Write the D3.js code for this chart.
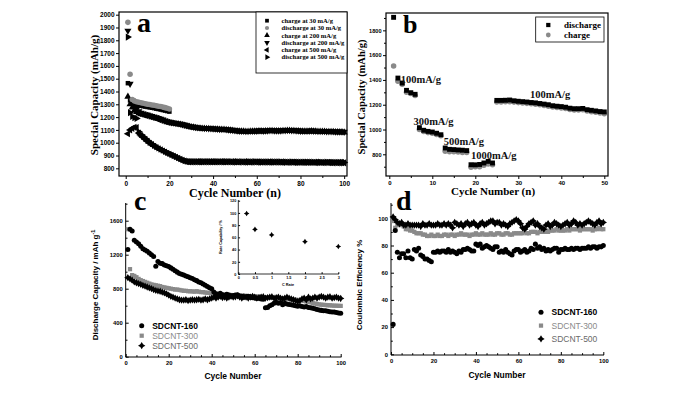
<!DOCTYPE html>
<html>
<head>
<meta charset="utf-8">
<script src="https://cdn.jsdelivr.net/npm/d3@7"></script>
<style>
  body { margin: 0; background: #fff; }
  svg { display: block; }
  .serif { font-family: "Liberation Serif", "Times New Roman", serif; }
  .sans { font-family: "Liberation Sans", Arial, sans-serif; font-weight: bold; }
</style>
</head>
<body>
<div id="fig"></div>
<script>
// ---------- panel a : cycling at 30 / 200 / 500 mA/g ----------
const charge30 = [1465,1330,1312,1302,1296,1291,1288,1285,1282,1279,1276,1273,1270,1266,1263,1259,1255,1251,1247,1243];
const discharge30 = [1940,1535,1338,1326,1320,1316,1312,1308,1305,1301,1298,1295,1292,1288,1285,1282,1278,1274,1270,1264];
const charge200 = [1360,1300,1275,1255,1240,1228,1222,1218,1214,1210,1205,1200,1195,1190,1185,1178,1172,1166,1160,1156,
  1152,1150,1147,1145,1142,1138,1134,1130,1126,1122,1119,1116,1114,1112,1111,1110,1109,1108,1107,1106,
  1105,1104,1103,1103,1102,1100,1098,1096,1094,1092,1090,1089,1088,1088,1087,1087,1088,1088,1089,1089,
  1090,1090,1089,1090,1091,1092,1092,1091,1090,1090,1091,1092,1093,1094,1094,1093,1092,1091,1090,1089,
  1089,1088,1088,1089,1090,1089,1088,1087,1087,1086,1086,1085,1085,1084,1084,1083,1083,1082,1082,1081];
const discharge200 = [1875,1460,1330,1290,1262,1245,1234,1228,1222,1218,1213,1208,1203,1198,1192,1186,1180,1174,1168,1163,
  1159,1156,1153,1150,1147,1143,1139,1135,1131,1127,1124,1121,1119,1117,1115,1114,1113,1112,1111,1110,
  1109,1108,1107,1107,1106,1104,1102,1100,1098,1096,1094,1093,1092,1092,1091,1091,1092,1092,1093,1093,
  1094,1094,1093,1094,1095,1096,1096,1095,1094,1094,1095,1096,1097,1098,1098,1097,1096,1095,1094,1093,
  1093,1092,1092,1093,1094,1093,1092,1091,1091,1090,1090,1089,1089,1088,1088,1087,1087,1086,1086,1085];
const charge500 = [1070,1100,1112,1120,1118,1075,1055,1040,1025,1010,995,985,972,962,952,944,935,926,918,910,
  902,894,886,878,870,862,856,851,850,850,850,849,850,850,849,850,850,849,849,850,
  850,849,849,850,849,849,850,849,848,849,849,848,849,848,848,849,848,848,849,848,
  848,847,848,848,847,848,847,847,848,847,847,846,847,846,846,847,846,846,845,846,
  846,845,845,846,845,845,844,845,845,844,844,845,844,844,843,844,843,843,844,843];
const discharge500 = [1825,1235,1205,1195,1190,1085,1064,1049,1033,1018,1003,992,979,969,959,950,941,932,924,916,
  907,899,891,883,875,867,860,855,853,853,853,852,853,853,852,853,853,852,852,853,
  853,852,852,853,852,852,853,852,851,852,852,851,852,851,851,852,851,851,852,851,
  851,850,851,851,850,851,850,850,851,850,850,849,850,849,849,850,849,849,848,849,
  849,848,848,849,848,848,847,848,848,847,847,848,847,847,846,847,846,846,847,846];
const legendA = ["charge at 30 mA/g","discharge at 30 mA/g","charge at 200 mA/g","discharge at 200 mA/g","charge at 500 mA/g","discharge at 500 mA/g"];

// ---------- panel b : rate test ----------
const dischargeB = [1905,1415,1375,1316,1297,1284,1015,994,985,980,970,958,851,840,838,835,833,830,716,715,
  718,730,743,730,1235,1235,1236,1238,1232,1228,1225,1222,1218,1215,1210,1205,1200,1192,1188,1185,
  1180,1172,1168,1168,1170,1160,1155,1150,1145,1142];
const chargeB = [1512,1390,1365,1300,1290,1275,1000,985,975,970,960,950,825,820,820,818,815,815,695,700,
  700,712,722,715,1222,1222,1224,1225,1221,1217,1214,1211,1207,1204,1199,1194,1188,1181,1177,1174,
  1169,1162,1157,1157,1159,1149,1144,1139,1133,1128];
const rateLabels = [
  {cyc: 2.65, val: 1375, text: "100mA/g"},
  {cyc: 5.6, val: 1036, text: "300mA/g"},
  {cyc: 12.65, val: 875, text: "500mA/g"},
  {cyc: 19, val: 766, text: "1000mA/g"},
  {cyc: 32.7, val: 1256, text: "100mA/g"}
];

// ---------- panel c : discharge capacity ----------
const sd160c = [1260,1500,1480,1370,1350,1330,1300,1270,1255,1240,1220,1200,1180,1065,1120,1100,1095,1080,1070,1060,
  1045,1030,1010,995,980,970,960,950,940,930,920,905,895,880,870,855,840,825,810,800,
  760,740,735,745,730,720,735,725,715,720,725,730,715,710,700,705,710,700,695,690,
  685,690,680,675,575,580,600,610,630,640,630,635,610,630,620,615,610,605,600,595,
  600,590,585,590,580,575,570,565,555,550,545,540,540,535,530,525,525,520,515,510];
const sd300c = [1500,1030,960,950,935,915,900,890,880,870,860,850,845,840,835,830,820,815,810,805,
  800,795,790,790,785,780,775,775,770,770,768,765,770,765,760,760,755,752,750,745,
  745,740,738,735,735,732,730,728,725,725,722,720,720,718,715,715,712,712,710,710,
  708,705,705,700,700,698,695,695,690,690,688,685,685,680,680,678,675,672,670,668,
  665,660,655,650,645,640,630,625,620,615,612,610,608,605,605,602,600,600,598,598];
const sd500c = [930,915,900,880,870,860,850,840,830,820,810,800,790,780,775,770,760,750,740,725,
  710,700,690,680,670,665,665,670,660,665,670,665,670,675,665,670,680,670,680,690,
  700,690,700,710,695,700,690,700,710,700,705,715,700,690,705,700,690,700,710,700,
  690,695,700,705,690,695,700,705,690,695,700,690,680,690,700,690,680,670,660,650,
  660,680,690,670,700,680,690,700,690,700,710,700,690,700,705,690,695,700,690,685];
// inset : rate capability
const cRate = [0.25, 0.5, 1, 2, 3];
const rateCap = [99, 73, 64, 53, 45];

// ---------- panel d : coulombic efficiency ----------
const sd160d = [22,91,75,71,74,74,71,76,71,70,77,76,78,73,72,70,70,69,68,75,
  75,76,75,76,76,75,77,75,76,75,74,76,75,77,77,78,77,76,76,81,
  80,81,78,79,80,79,78,77,79,79,75,76,75,77,75,74,73,76,77,77,
  75,76,77,75,76,78,77,81,78,79,77,78,76,77,76,77,78,78,75,77,
  77,78,77,77,78,77,78,78,77,78,78,78,79,78,79,79,78,79,79,80];
const sd300d = [98,93,95,96,95,94,92,92,91,91,90,89,89,89,88,88,87,87,88,87,
  87,88,87,87,88,88,87,88,88,87,88,88,89,88,88,88,87,88,88,89,
  88,88,89,88,88,88,89,88,88,89,89,88,88,89,89,88,88,89,89,89,
  89,89,90,89,89,90,90,90,89,90,90,90,91,90,91,91,91,92,91,91,
  91,91,92,91,92,92,92,92,91,92,92,92,92,92,91,92,92,93,92,92];
const sd500d = [101,99,97,96,97,95,95,96,95,95,95,95,95,94,96,95,95,96,95,95,
  95,96,95,95,96,95,96,95,93,97,96,95,96,94,96,97,95,96,97,95,
  94,96,97,95,96,97,98,98,96,97,97,95,96,95,94,96,97,98,99,98,
  96,93,92,94,96,97,98,95,96,94,93,92,95,96,94,95,97,96,95,94,
  95,96,97,95,96,98,97,95,96,95,96,97,98,97,96,95,97,98,96,97];
const sdNames = ["SDCNT-160", "SDCNT-300", "SDCNT-500"];

const GRAY = "#8a8a8a";

const svg = d3.select("#fig").append("svg")
  .attr("width", 700).attr("height", 393);

// four-pointed star marker used for SDCNT-500
const star4 = {
  draw(ctx, size) {
    const r = Math.sqrt(size) * 0.75, q = r * 0.38;
    ctx.moveTo(0, -r);
    ctx.lineTo(q, -q); ctx.lineTo(r, 0); ctx.lineTo(q, q);
    ctx.lineTo(0, r); ctx.lineTo(-q, q); ctx.lineTo(-r, 0); ctx.lineTo(-q, -q);
    ctx.closePath();
  }
};

const sym = (type, size) => d3.symbol().type(type).size(size)();
const rot = {up: 0, down: 180, left: -90, right: 90};

function drawPoints(g, vals, x, y, shape, size, color, angle, start) {
  start = start || 1;
  g.append("g").selectAll("path")
    .data(vals)
    .join("path")
    .attr("d", sym(shape, size))
    .attr("transform", (d, i) => "translate(" + x(i + start) + "," + y(d) + ") rotate(" + (angle || 0) + ")")
    .attr("fill", color);
}

function styleAxis(g, cls, fs) {
  g.select(".domain").remove();
  g.selectAll("text").attr("class", cls).style("font-size", fs + "px").attr("fill", "#000");
  g.selectAll("line").attr("stroke", "#000");
}

// ======================= panel a =======================
{
  const x = d3.scaleLinear().domain([-3.07, 101.3]).range([119, 347]);
  const y = d3.scaleLinear().domain([740, 2021]).range([176, 12]);
  const g = svg.append("g");

  g.append("rect").attr("x", 119).attr("y", 12).attr("width", 228).attr("height", 164)
    .attr("fill", "none").attr("stroke", "#000").attr("stroke-width", 1.2);

  const ya = g.append("g").attr("transform", "translate(119,0)")
    .call(d3.axisLeft(y).tickValues(d3.range(800, 2001, 100)).tickSize(3).tickPadding(1.5).tickFormat(d3.format("d")));
  styleAxis(ya, "sans", 6.5);
  const xa = g.append("g").attr("transform", "translate(0,176)")
    .call(d3.axisBottom(x).tickValues(d3.range(0, 101, 20)).tickSize(3).tickPadding(2));
  styleAxis(xa, "sans", 6.5);
  const xm = g.append("g").attr("transform", "translate(0,176)")
    .call(d3.axisBottom(x).tickValues(d3.range(10, 100, 20)).tickSize(2).tickFormat(""));
  styleAxis(xm, "sans", 6);

  drawPoints(g, charge500, x, y, d3.symbolTriangle, 22, "#000", rot.left);
  drawPoints(g, discharge500, x, y, d3.symbolTriangle, 22, "#000", rot.right);
  drawPoints(g, charge200, x, y, d3.symbolTriangle, 22, "#000", rot.up);
  drawPoints(g, discharge200, x, y, d3.symbolTriangle, 22, "#000", rot.down);
  drawPoints(g, charge30, x, y, d3.symbolSquare, 20, "#000");
  drawPoints(g, discharge30, x, y, d3.symbolCircle, 24, GRAY);

  // legend
  g.append("rect").attr("x", 256).attr("y", 12).attr("width", 91).attr("height", 61)
    .attr("fill", "#fff").attr("stroke", "#000").attr("stroke-width", 0.8);
  const legShapes = [
    [d3.symbolSquare, "#000", 0], [d3.symbolCircle, GRAY, 0], [d3.symbolTriangle, "#000", rot.up],
    [d3.symbolTriangle, "#000", rot.down], [d3.symbolTriangle, "#000", rot.left], [d3.symbolTriangle, "#000", rot.right]
  ];
  legendA.forEach((t, i) => {
    const yy = 20.7 + i * 7.3;
    g.append("path").attr("d", sym(legShapes[i][0], 14))
      .attr("transform", "translate(267," + yy + ") rotate(" + legShapes[i][2] + ")")
      .attr("fill", legShapes[i][1]);
    g.append("text").attr("class", "serif").attr("x", 281.5).attr("y", yy + 2.2)
      .style("font-size", "6.6px").style("font-weight", "bold").text(t);
  });

  g.append("text").attr("class", "serif").attr("x", 137).attr("y", 32)
    .style("font-size", "28px").style("font-weight", "bold").text("a");
  g.append("text").attr("class", "serif").attr("transform", "translate(98,95) rotate(-90)")
    .attr("text-anchor", "middle").style("font-size", "11px").style("font-weight", "bold")
    .text("Special Capacity (mAh/g)");
  g.append("text").attr("class", "serif").attr("x", 235).attr("y", 197)
    .attr("text-anchor", "middle").style("font-size", "12px").style("font-weight", "bold")
    .text("Cycle Number (n)");
}

// ======================= panel b =======================
{
  const x = d3.scaleLinear().domain([-0.77, 50.86]).range([386, 608]);
  const y = d3.scaleLinear().domain([625, 1940]).range([176, 13]);
  const g = svg.append("g");

  g.append("rect").attr("x", 386).attr("y", 13).attr("width", 222).attr("height", 163)
    .attr("fill", "none").attr("stroke", "#000").attr("stroke-width", 1.2);

  const ya = g.append("g").attr("transform", "translate(386,0)")
    .call(d3.axisLeft(y).tickValues(d3.range(800, 1801, 200)).tickSize(3).tickPadding(1.5).tickFormat(d3.format("d")));
  styleAxis(ya, "sans", 5.6);
  const ym = g.append("g").attr("transform", "translate(386,0)")
    .call(d3.axisLeft(y).tickValues(d3.range(700, 1901, 200)).tickSize(2).tickFormat(""));
  styleAxis(ym, "sans", 5.6);
  const xa = g.append("g").attr("transform", "translate(0,176)")
    .call(d3.axisBottom(x).tickValues(d3.range(0, 51, 10)).tickSize(3).tickPadding(1.5));
  styleAxis(xa, "sans", 6);
  const xm = g.append("g").attr("transform", "translate(0,176)")
    .call(d3.axisBottom(x).tickValues(d3.range(5, 50, 10)).tickSize(2).tickFormat(""));
  styleAxis(xm, "sans", 6);

  drawPoints(g, chargeB, x, y, d3.symbolCircle, 24, GRAY);
  drawPoints(g, dischargeB, x, y, d3.symbolSquare, 24, "#000");

  g.selectAll(".rl").data(rateLabels).join("text")
    .attr("class", "serif").attr("x", d => x(d.cyc)).attr("y", d => y(d.val))
    .style("font-size", "10.5px").style("font-weight", "bold").attr("fill", "#111")
    .text(d => d.text);

  g.append("rect").attr("x", 535.7).attr("y", 17).attr("width", 68.3).attr("height", 25)
    .attr("fill", "#fff").attr("stroke", "#000").attr("stroke-width", 0.8);
  g.append("path").attr("d", sym(d3.symbolSquare, 18)).attr("transform", "translate(548.3,25)").attr("fill", "#000");
  g.append("path").attr("d", sym(d3.symbolCircle, 18)).attr("transform", "translate(548.3,35)").attr("fill", GRAY);
  g.append("text").attr("class", "serif").attr("x", 564).attr("y", 28)
    .style("font-size", "9px").style("font-weight", "bold").text("discharge");
  g.append("text").attr("class", "serif").attr("x", 564).attr("y", 38)
    .style("font-size", "9px").style("font-weight", "bold").text("charge");

  g.append("text").attr("class", "serif").attr("x", 403).attr("y", 33)
    .style("font-size", "26px").style("font-weight", "bold").text("b");
  g.append("text").attr("class", "serif").attr("transform", "translate(364.5,97) rotate(-90)")
    .attr("text-anchor", "middle").style("font-size", "10.5px").style("font-weight", "bold")
    .text("Special Capacity (mAh/g)");
  g.append("text").attr("class", "serif").attr("x", 493).attr("y", 195)
    .attr("text-anchor", "middle").style("font-size", "11px").style("font-weight", "bold")
    .text("Cycle Number (n)");
}

// shared legend for panels c and d
function sdLegend(g, lx, ly, gap) {
  const shapes = [[d3.symbolCircle, "#000", 20], [d3.symbolSquare, GRAY, 18], [star4, "#000", 24]];
  const colors = ["#000", GRAY, "#6a6a6a"];
  sdNames.forEach((t, i) => {
    g.append("path").attr("d", sym(shapes[i][0], shapes[i][2]))
      .attr("transform", "translate(" + lx + "," + (ly + i * gap) + ")").attr("fill", shapes[i][1]);
    g.append("text").attr("class", "sans").attr("x", lx + 10.5).attr("y", ly + i * gap + 3)
      .style("font-size", "8.5px").style("font-weight", i === 0 ? "bold" : "normal")
      .attr("fill", colors[i]).text(t);
  });
}

// ======================= panel c =======================
{
  const x = d3.scaleLinear().domain([0, 100]).range([125.7, 340.7]);
  const y = d3.scaleLinear().domain([0, 1800]).range([356.7, 203.7]);
  const g = svg.append("g");

  g.append("line").attr("x1", 125.7).attr("x2", 125.7).attr("y1", 203).attr("y2", 357).attr("stroke", "#000");
  g.append("line").attr("x1", 125.7).attr("x2", 341.5).attr("y1", 357).attr("y2", 357).attr("stroke", "#000");

  const ya = g.append("g").attr("transform", "translate(125.7,0)")
    .call(d3.axisRight(y).tickValues(d3.range(0, 1601, 400)).tickSize(3).tickFormat(d3.format("d")));
  ya.selectAll("text").attr("x", -3).attr("text-anchor", "end");
  styleAxis(ya, "sans", 5.8);
  const ym = g.append("g").attr("transform", "translate(125.7,0)")
    .call(d3.axisRight(y).tickValues(d3.range(200, 1801, 400)).tickSize(1.8).tickFormat(""));
  styleAxis(ym, "sans", 5.8);
  const xa = g.append("g").attr("transform", "translate(0,357)")
    .call(d3.axisTop(x).tickValues(d3.range(0, 101, 20)).tickSize(3));
  xa.selectAll("text").attr("y", 7.5).attr("dy", 0);
  styleAxis(xa, "sans", 5.8);
  const xm = g.append("g").attr("transform", "translate(0,357)")
    .call(d3.axisTop(x).tickValues(d3.range(5, 100, 5).filter(v => v % 20)).tickSize(1.8).tickFormat(""));
  styleAxis(xm, "sans", 5.8);

  drawPoints(g, sd300c, x, y, d3.symbolSquare, 18, GRAY);
  drawPoints(g, sd500c, x, y, star4, 24, "#000");
  drawPoints(g, sd160c, x, y, d3.symbolCircle, 20, "#000");

  sdLegend(g, 141.7, 325.7, 10);

  g.append("text").attr("class", "serif").attr("x", 134).attr("y", 210)
    .style("font-size", "28px").style("font-weight", "bold").text("c");
  const yl = g.append("text").attr("class", "sans").attr("transform", "translate(98,285) rotate(-90)")
    .attr("text-anchor", "middle").style("font-size", "8px");
  yl.append("tspan").text("Discharge Capacity / mAh g");
  yl.append("tspan").attr("dy", -3).style("font-size", "5.5px").text("-1");
  g.append("text").attr("class", "sans").attr("x", 233).attr("y", 379)
    .attr("text-anchor", "middle").style("font-size", "8.5px").text("Cycle Number");

  // inset: rate capability vs C rate
  const xi = d3.scaleLinear().domain([0, 3]).range([238.3, 338.3]);
  const yi = d3.scaleLinear().domain([0, 120]).range([274, 200.7]);
  g.append("line").attr("x1", 238.3).attr("x2", 238.3).attr("y1", 200).attr("y2", 274).attr("stroke", "#000").attr("stroke-width", 0.8);
  g.append("line").attr("x1", 238.3).attr("x2", 339).attr("y1", 274).attr("y2", 274).attr("stroke", "#000").attr("stroke-width", 0.8);
  const yia = g.append("g").attr("transform", "translate(238.3,0)")
    .call(d3.axisRight(yi).tickValues(d3.range(0, 121, 20)).tickSize(1.8));
  yia.selectAll("text").attr("x", -2).attr("text-anchor", "end");
  styleAxis(yia, "sans", 3.8);
  const xia = g.append("g").attr("transform", "translate(0,274)")
    .call(d3.axisTop(xi).tickValues(d3.range(0, 3.01, 0.5)).tickSize(1.8).tickFormat(d => d3.format("~g")(d)));
  xia.selectAll("text").attr("y", 5).attr("dy", 0);
  styleAxis(xia, "sans", 3.8);
  g.append("g").selectAll("path").data(cRate).join("path")
    .attr("d", sym(star4, 14))
    .attr("transform", (d, i) => "translate(" + xi(d) + "," + yi(rateCap[i]) + ")")
    .attr("fill", "#000");
  g.append("text").attr("class", "sans").attr("transform", "translate(222,237) rotate(-90)")
    .attr("text-anchor", "middle").style("font-size", "3.8px").text("Rate Capability / %");
  g.append("text").attr("class", "sans").attr("x", 288).attr("y", 286)
    .attr("text-anchor", "middle").style("font-size", "3.8px").text("C Rate");
}

// ======================= panel d =======================
{
  const x = d3.scaleLinear().domain([0, 100]).range([391, 603.3]);
  const y = d3.scaleLinear().domain([0, 100]).range([354.3, 218.3]);
  const g = svg.append("g");

  g.append("line").attr("x1", 391).attr("x2", 391).attr("y1", 203).attr("y2", 355).attr("stroke", "#000");
  g.append("line").attr("x1", 391).attr("x2", 604).attr("y1", 355).attr("y2", 355).attr("stroke", "#000");

  const ya = g.append("g").attr("transform", "translate(391,0)")
    .call(d3.axisRight(y).tickValues(d3.range(0, 101, 20)).tickSize(3));
  ya.selectAll("text").attr("x", -3).attr("text-anchor", "end");
  styleAxis(ya, "sans", 5.8);
  const ym = g.append("g").attr("transform", "translate(391,0)")
    .call(d3.axisRight(y).tickValues(d3.range(10, 111, 20)).tickSize(1.8).tickFormat(""));
  styleAxis(ym, "sans", 5.8);
  const xa = g.append("g").attr("transform", "translate(0,355)")
    .call(d3.axisTop(x).tickValues(d3.range(0, 101, 20)).tickSize(3));
  xa.selectAll("text").attr("y", 7.5).attr("dy", 0);
  styleAxis(xa, "sans", 5.8);
  const xm = g.append("g").attr("transform", "translate(0,355)")
    .call(d3.axisTop(x).tickValues(d3.range(5, 100, 5).filter(v => v % 20)).tickSize(1.8).tickFormat(""));
  styleAxis(xm, "sans", 5.8);

  drawPoints(g, sd300d, x, y, d3.symbolSquare, 18, GRAY);
  drawPoints(g, sd500d, x, y, star4, 24, "#000");
  drawPoints(g, sd160d, x, y, d3.symbolCircle, 20, "#000");

  sdLegend(g, 541, 312.3, 13.3);

  g.append("text").attr("class", "serif").attr("x", 396).attr("y", 210)
    .style("font-size", "28px").style("font-weight", "bold").text("d");
  g.append("text").attr("class", "sans").attr("transform", "translate(362,285) rotate(-90)")
    .attr("text-anchor", "middle").style("font-size", "8px").text("Coulombic Efficiency %");
  g.append("text").attr("class", "sans").attr("x", 497).attr("y", 378)
    .attr("text-anchor", "middle").style("font-size", "8.5px").text("Cycle Number");
}
</script>
</body>
</html>
